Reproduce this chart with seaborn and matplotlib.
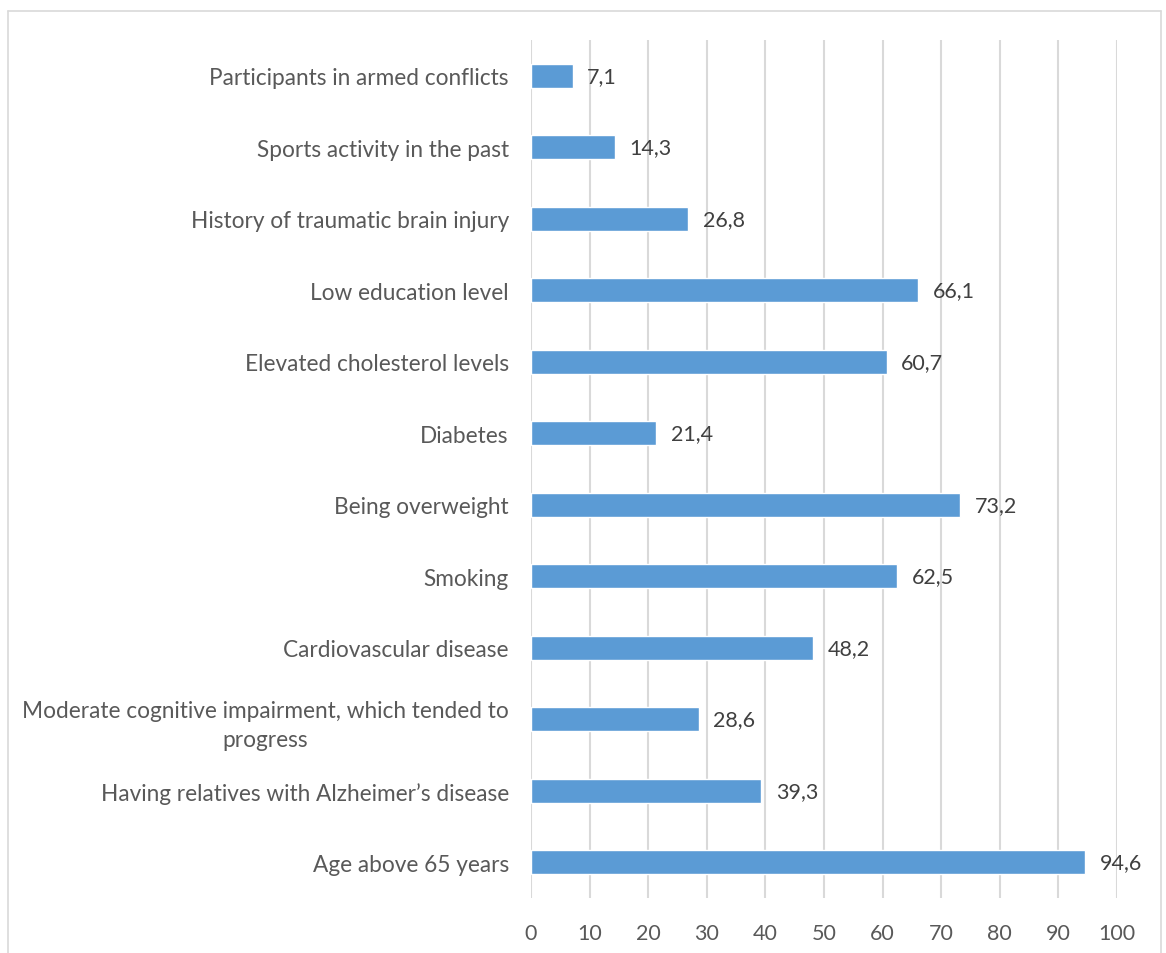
import matplotlib
matplotlib.use("Agg")
import matplotlib.pyplot as plt
import seaborn as sns
import pandas as pd
from matplotlib.lines import Line2D

categories = [
    "Participants in armed conflicts",
    "Sports activity in the past",
    "History of traumatic brain injury",
    "Low education level",
    "Elevated cholesterol levels",
    "Diabetes",
    "Being overweight",
    "Smoking",
    "Cardiovascular disease",
    "Moderate cognitive impairment, which tended to\nprogress",
    "Having relatives with Alzheimer\u2019s disease",
    "Age above 65 years",
]
values = [7.1, 14.3, 26.8, 66.1, 60.7, 21.4, 73.2, 62.5, 48.2, 28.6, 39.3, 94.6]
value_labels = ["7,1", "14,3", "26,8", "66,1", "60,7", "21,4", "73,2", "62,5", "48,2", "28,6", "39,3", "94,6"]
ticks = [0, 10, 20, 30, 40, 50, 60, 70, 80, 90, 100]

sns.set_theme(style="white")
plt.rcParams['font.family'] = ['Lato', 'DejaVu Sans']

df = pd.DataFrame({"cat": categories, "val": values})

fig = plt.figure(figsize=(11.66, 9.54), dpi=100)
ax = fig.add_axes([531/1166, 1-899/954, (1117-531)/1166, (899-41)/954])

sns.barplot(data=df, y="cat", x="val", order=categories, color="#5b9bd5",
            width=0.34, saturation=1, ax=ax, zorder=3)

FS_NUM = 15.5
FS_CAT = 16.3
ax.set_xlim(0, 100)
ax.set_xticks(ticks)
ax.set_xticklabels([str(t) for t in ticks])
ax.set_xlabel("")
ax.set_ylabel("")
for s in ax.spines.values():
    s.set_visible(False)
ax.grid(axis="x", color="#d9d9d9", linewidth=1.5, zorder=0)
ax.grid(axis="y", visible=False)
ax.tick_params(axis="both", length=0, labelcolor="#595959")
ax.tick_params(axis="x", pad=18, labelsize=FS_NUM)
ax.tick_params(axis="y", pad=16, labelsize=FS_CAT)
for lab in ax.get_yticklabels():
    lab.set_multialignment("center")
    lab.set_linespacing(1.45)

for i, (v, lab) in enumerate(zip(values, value_labels)):
    ax.text(v + 2.5, i, lab, va="center", ha="left", fontsize=FS_NUM, color="#404040")

# border
c = "#d9d9d9"
x0, x1 = 8/1166, 1161/1166
yt = 1 - 12/954
fig.add_artist(Line2D([x0, x1], [yt, yt], color=c, lw=1.2, transform=fig.transFigure))
fig.add_artist(Line2D([x0, x0], [0, yt], color=c, lw=1.2, transform=fig.transFigure))
fig.add_artist(Line2D([x1, x1], [0, yt], color=c, lw=1.2, transform=fig.transFigure))

fig.savefig("out.png", dpi=100)
